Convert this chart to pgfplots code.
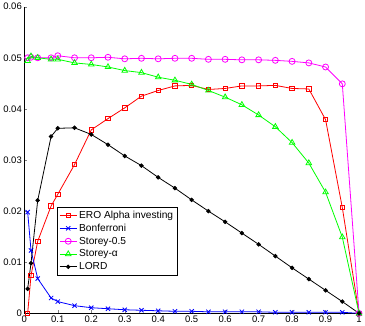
\documentclass[border=0pt]{standalone}
\usepackage{fontspec}
\setmainfont{Liberation Sans}
\usepackage{pgfplots}
\pgfplotsset{compat=1.18}
\definecolor{mred}{rgb}{1,0,0}
\definecolor{mblue}{rgb}{0,0,1}
\definecolor{mmag}{rgb}{1,0,1}
\definecolor{mgreen}{rgb}{0,1,0}
\begin{document}
\begin{tikzpicture}
\begin{axis}[
    scale only axis, width=334bp, height=306bp,
    xmin=0, xmax=1, ymin=0, ymax=0.06,
    axis x line*=bottom, axis y line*=left, axis line style={-},
    tick align=inside, major tick length=3pt,
    scaled y ticks=false, scaled x ticks=false,
    xtick={0,0.1,...,1}, xticklabels={0,0.1,0.2,0.3,0.4,0.5,0.6,0.7,0.8,0.9,1},
    ytick={0,0.01,...,0.06}, yticklabels={0,0.01,0.02,0.03,0.04,0.05,0.06},
    tick label style={font=\fontsize{9.5}{11}\selectfont},
    xticklabel style={yshift=1pt}, yticklabel style={xshift=1pt},
    clip=false,
    legend cell align=left,
    legend style={at={(0.098,0.348)}, anchor=north west, draw=black, line width=0.4pt,
        font=\fontsize{10.2}{12}\selectfont, row sep=0.2pt, inner sep=2pt},
    every axis plot/.append style={line width=0.8pt},
]
% ERO Alpha investing
\addplot [mred, mark=square, mark size=2.2pt] coordinates {
(0.01,0) (0.02,0.0074) (0.04,0.0141) (0.08,0.021) (0.1,0.0233) (0.15,0.0291) (0.2,0.0359) (0.25,0.0381) (0.3,0.0402) (0.35,0.0425) (0.4,0.0436) (0.45,0.0445) (0.5,0.0446) (0.55,0.0438) (0.6,0.044) (0.65,0.0445) (0.7,0.0445) (0.75,0.0446) (0.8,0.044) (0.85,0.0439) (0.9,0.0379) (0.95,0.0207) (1,0)
};
\addlegendentry{ERO Alpha investing}
% Bonferroni
\addplot [mblue, mark=x, mark size=3pt] coordinates {
(0.01,0.0198) (0.02,0.0123) (0.04,0.0068) (0.08,0.003) (0.1,0.0023) (0.15,0.0015) (0.2,0.0011) (0.25,0.0009) (0.3,0.0007) (0.35,0.0006) (0.4,0.0005) (0.45,0.0004) (0.5,0.0004) (0.55,0.0003) (0.6,0.0003) (0.65,0.0003) (0.7,0.0003) (0.75,0.0002) (0.8,0.0002) (0.85,0.0002) (0.9,0.0002) (0.95,0.0002) (1,0)
};
\addlegendentry{Bonferroni}
% Storey-0.5
\addplot [mmag, mark=o, mark size=3pt] coordinates {
(0.01,0.0500) (0.02,0.0501) (0.04,0.0500) (0.08,0.0500) (0.1,0.0504) (0.15,0.0500) (0.2,0.0500) (0.25,0.0501) (0.3,0.0498) (0.35,0.0499) (0.4,0.0498) (0.45,0.0499) (0.5,0.0499) (0.55,0.0497) (0.6,0.0497) (0.65,0.0496) (0.7,0.0496) (0.75,0.0495) (0.8,0.0493) (0.85,0.0490) (0.9,0.0482) (0.95,0.0449) (1,0)
};
\addlegendentry{Storey-0.5}
% Storey-alpha
\addplot [mgreen, mark=triangle, mark size=3.2pt] coordinates {
(0.01,0.0494) (0.02,0.0503) (0.04,0.0500) (0.08,0.0497) (0.1,0.0497) (0.15,0.0490) (0.2,0.0487) (0.25,0.0482) (0.3,0.0475) (0.35,0.0471) (0.4,0.0462) (0.45,0.0456) (0.5,0.0448) (0.55,0.0436) (0.6,0.0423) (0.65,0.0408) (0.7,0.0388) (0.75,0.0365) (0.8,0.0334) (0.85,0.0294) (0.9,0.0237) (0.95,0.0149) (1,0)
};
\addlegendentry{Storey-α}
% LORD
\addplot [black, mark=*, mark size=1.8pt] coordinates {
(0.01,0.0048) (0.02,0.0098) (0.04,0.0221) (0.08,0.0346) (0.1,0.0362) (0.15,0.0363) (0.2,0.035) (0.25,0.033) (0.3,0.0308) (0.35,0.0289) (0.4,0.0266) (0.45,0.0245) (0.5,0.0222) (0.55,0.020) (0.6,0.0179) (0.65,0.0157) (0.7,0.0135) (0.75,0.0112) (0.8,0.0089) (0.85,0.0067) (0.9,0.0045) (0.95,0.0023) (1,0)
};
\addlegendentry{LORD}
\end{axis}
\end{tikzpicture}
\end{document}
